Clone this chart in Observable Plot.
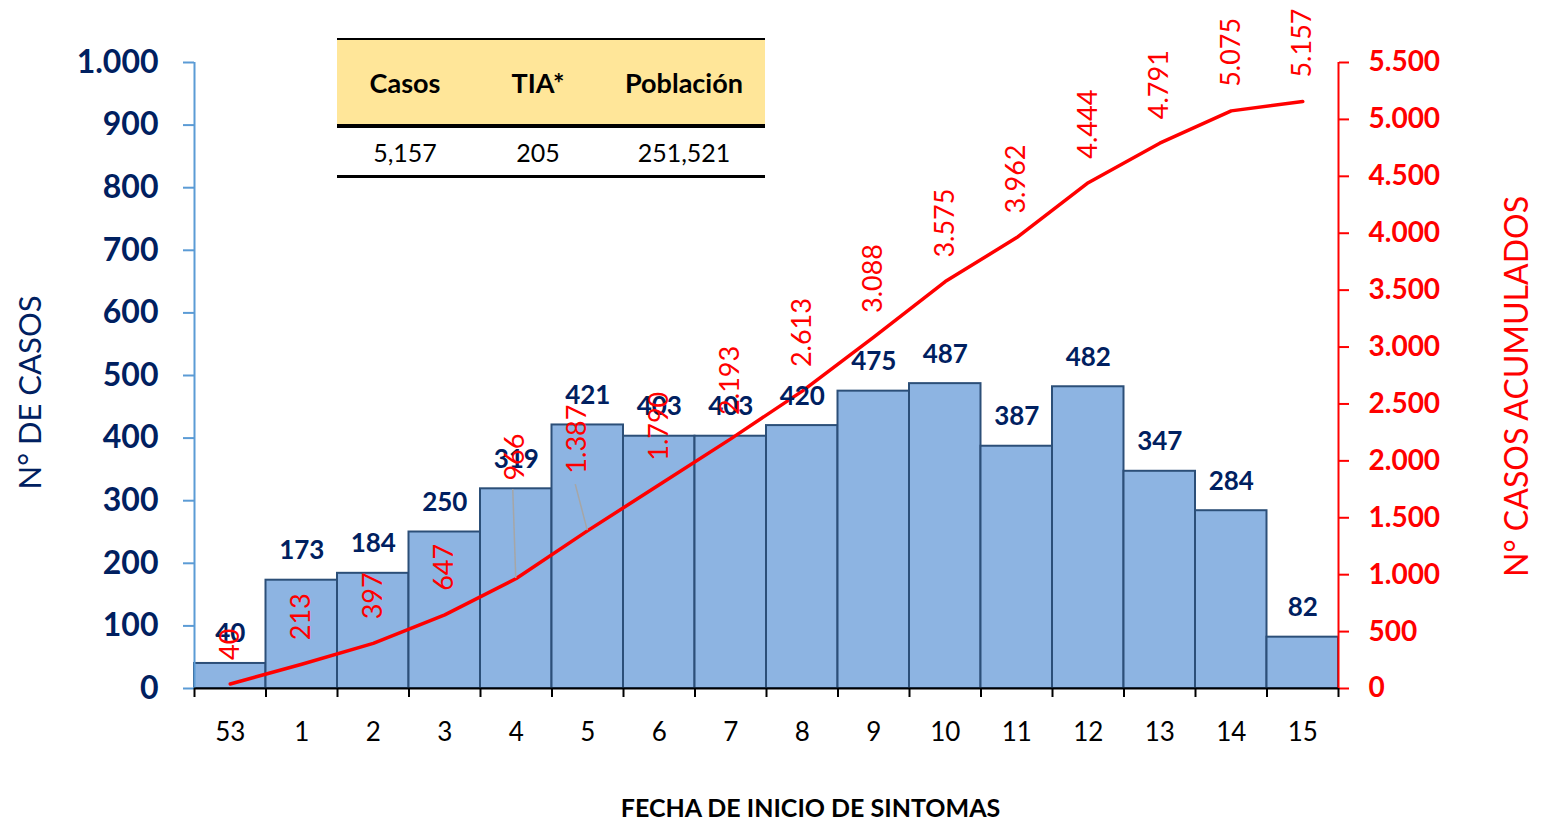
<!DOCTYPE html>
<html>
<head>
<meta charset="utf-8">
<script src="https://cdn.jsdelivr.net/npm/d3@7"></script>
<script src="https://cdn.jsdelivr.net/npm/@observablehq/plot@0.6"></script>
<style>
  html, body { margin: 0; padding: 0; background: #fff; }
  #wrap { position: relative; width: 1552px; height: 823px; font-family: Lato, "Open Sans", sans-serif; }
  #tbl { position: absolute; left: 337px; top: 38px; width: 428px; border-collapse: collapse; color: #000; }
  #tbl th { background: #FFE699; font-weight: bold; font-size: 27px; height: 84px; padding: 0; border-top: 2px solid #000; border-bottom: 4px solid #000; }
  #tbl td { height: 47px; padding: 0; text-align: center; font-size: 25px; border-bottom: 3px solid #000; }
</style>
</head>
<body>
<div id="wrap"></div>
<script>
// ---- data ----
const weeks = ["53","1","2","3","4","5","6","7","8","9","10","11","12","13","14","15"];
const casos = [40,173,184,250,319,421,403,403,420,475,487,387,482,347,284,82];
const acumulados = [40,213,397,647,966,1387,1790,2193,2613,3088,3575,3962,4444,4791,5075,5157];
const leftTicks = [0,100,200,300,400,500,600,700,800,900,1000];
const rightTicks = [0,500,1000,1500,2000,2500,3000,3500,4000,4500,5000,5500];
const tableHeaders = ["Casos","TIA*","Población"];
const tableValues = ["5,157","205","251,521"];
const titleLeft = "N° DE CASOS";
const titleRight = "N° CASOS ACUMULADOS";
const titleBottom = "FECHA DE INICIO DE SINTOMAS";

// ---- styles ----
const navy = "#002060", red = "#FF0000", axisBlue = "#5B9BD5";
const barFill = "#8DB4E2", barStroke = "#2C4F78";
const ratio = 5500 / 1000; // right axis max / left axis max
const fmt = d3.formatLocale({decimal: ",", thousands: ".", grouping: [3], currency: ["", ""]}).format(",d");

const data = weeks.map((w, i) => ({i, week: w, casos: casos[i], acum: acumulados[i]}));
const shifted = {4: {dx: -1, dy: -98, lx: -3, ly: -89}, 5: {dx: -10, dy: -57, lx: -12, ly: -46}};

const leaders = (index, scales) => {
  const g = d3.create("svg:g");
  for (const k of Object.keys(shifted)) {
    const d = data[+k], s = shifted[k];
    const px = scales.x(d.i + 0.5), py = scales.y(d.acum / ratio);
    g.append("line").attr("x1", px).attr("y1", py).attr("x2", px + s.lx).attr("y2", py + s.ly)
      .attr("stroke", "#A6A6A6").attr("stroke-width", 1.5);
  }
  return g.node();
};

const chart = Plot.plot({
  width: 1552,
  height: 823,
  marginLeft: 194,
  marginRight: 214,
  marginTop: 62,
  marginBottom: 135,
  style: {fontFamily: "Lato, 'Open Sans', sans-serif", fontSize: "26px", background: "white"},
  x: {type: "linear", domain: [0, weeks.length]},
  y: {domain: [0, 1000]},
  marks: [
    Plot.rectY(data, {x1: d => d.i, x2: d => d.i + 1, y: "casos", fill: barFill, stroke: barStroke, strokeWidth: 2}),
    // axis lines
    Plot.ruleX([0], {stroke: axisBlue, strokeWidth: 2}),
    Plot.ruleX([weeks.length], {stroke: red, strokeWidth: 2}),
    Plot.ruleY([0], {stroke: "#000", strokeWidth: 2}),
    // left axis
    Plot.axisY({ticks: leftTicks, tickSize: 11, tickFormat: () => "", stroke: axisBlue, strokeWidth: 2, label: null}),
    Plot.axisY({ticks: leftTicks, tickSize: 0, tickPadding: 36, tickFormat: fmt, fill: navy, fontWeight: "bold", fontSize: 32, label: null}),
    // right axis
    Plot.axisY({anchor: "right", ticks: rightTicks.map(v => v / ratio), tickSize: 10, tickFormat: () => "", stroke: red, strokeWidth: 2, label: null}),
    Plot.axisY({anchor: "right", ticks: rightTicks.map(v => v / ratio), tickSize: 0, tickPadding: 30, tickFormat: d => fmt(Math.round(d * ratio)), fill: red, fontWeight: "bold", fontSize: 28, label: null}),
    // x axis
    Plot.axisX({ticks: d3.range(weeks.length + 1), tickSize: 9, tickFormat: () => "", stroke: "#000", strokeWidth: 2, label: null}),
    Plot.axisX({ticks: weeks.map((w, i) => i + 0.5), tickSize: 0, tickPadding: 34, tickFormat: d => weeks[Math.floor(d)], fill: "#000", fontSize: 26, label: null}),
    // cumulative line
    Plot.line(data, {x: d => d.i + 0.5, y: d => d.acum / ratio, stroke: red, strokeWidth: 3.5}),
    leaders,
    // bar labels
    Plot.text(data, {x: d => d.i + 0.5, y: "casos", text: d => String(d.casos), lineAnchor: "bottom", dy: -21, fill: navy, fontWeight: "bold", fontSize: 26}),
    // cumulative labels
    Plot.text(data.filter(d => !(d.i in shifted)), {x: d => d.i + 0.5, y: d => d.acum / ratio, text: d => fmt(d.acum), rotate: -90, textAnchor: "start", dy: -24, fill: red, fontSize: 27}),
    ...Object.keys(shifted).map(k => Plot.text([data[+k]], {x: d => d.i + 0.5, y: d => d.acum / ratio, text: d => fmt(d.acum), rotate: -90, textAnchor: "start", dx: shifted[k].dx, dy: shifted[k].dy, fill: red, fontSize: 27})),
    // titles
    Plot.text([titleLeft], {frameAnchor: "left", textAnchor: "middle", lineAnchor: "middle", dx: -163, dy: 17, rotate: -90, fill: navy, fontSize: 31}),
    Plot.text([titleRight], {frameAnchor: "right", textAnchor: "middle", lineAnchor: "middle", dx: 179, dy: 11, rotate: -90, fill: red, fontSize: 32}),
    Plot.text([titleBottom], {frameAnchor: "bottom", textAnchor: "middle", lineAnchor: "middle", dx: 44, dy: 120, fill: "#000", fontWeight: "bold", fontSize: 25})
  ]
});

const wrap = document.getElementById("wrap");
wrap.appendChild(chart);

const table = document.createElement("table");
table.id = "tbl";
const colW = [136, 130, 162];
const trh = document.createElement("tr");
tableHeaders.forEach((h, j) => { const th = document.createElement("th"); th.textContent = h; th.style.width = colW[j] + "px"; trh.appendChild(th); });
const trv = document.createElement("tr");
tableValues.forEach(v => { const td = document.createElement("td"); td.textContent = v; trv.appendChild(td); });
table.appendChild(trh); table.appendChild(trv);
wrap.appendChild(table);
</script>
</body>
</html>
